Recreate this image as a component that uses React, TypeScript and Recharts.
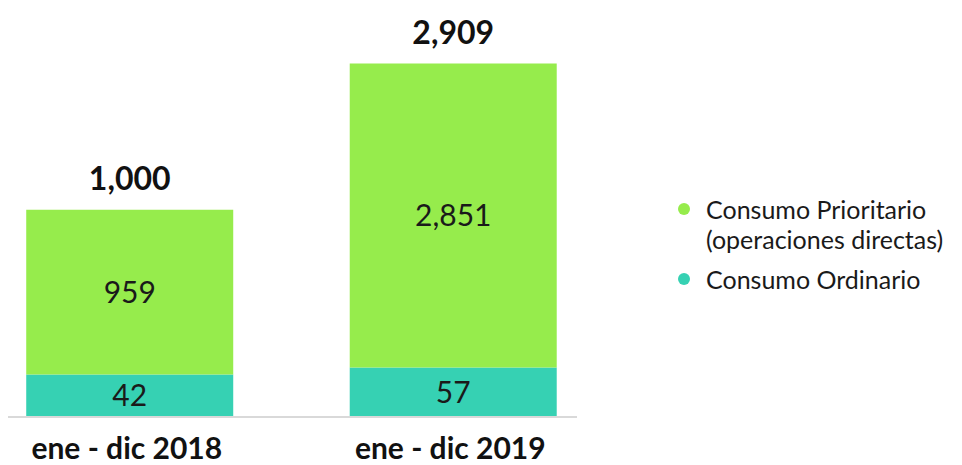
import { Bar, BarChart, LabelList, Legend, XAxis, YAxis } from "recharts";

const categories = ["ene - dic 2018", "ene - dic 2019"];
const ordinario = [42, 57];
const prioritario = [959, 2851];
const totals = [1000, 2909];

const seriesNames = {
  prioritario: ["Consumo Prioritario", "(operaciones directas)"],
  ordinario: ["Consumo Ordinario"],
};

const GREEN = "#96ec4c";
const TEAL = "#36d1b3";
const FONT = "Lato, 'Noto Sans', sans-serif";

const data = categories.map((name, i) => ({
  name,
  ordinario: ordinario[i],
  prioritario: prioritario[i],
  total: totals[i],
}));

const fmt = (v: unknown) => Number(v).toLocaleString("en-US");

function CategoryTick(props: any) {
  const { x, y, payload } = props;
  return (
    <text
      x={x - 3}
      y={y}
      dy={34}
      textAnchor="middle"
      fontFamily={FONT}
      fontWeight={700}
      fontSize={30}
      fill="#111"
    >
      {payload.value}
    </text>
  );
}

function LegendBox() {
  const items = [
    { color: GREEN, lines: seriesNames.prioritario },
    { color: TEAL, lines: seriesNames.ordinario },
  ];
  return (
    <div style={{ fontFamily: FONT, fontSize: 25, color: "#1a1a1a" }}>
      {items.map((it, i) => (
        <div
          key={i}
          style={{ display: "flex", alignItems: "flex-start", marginBottom: 10 }}
        >
          <svg width={12} height={12} style={{ marginTop: 9, marginRight: 16 }}>
            <circle cx={6} cy={6} r={6} fill={it.color} />
          </svg>
          <div style={{ lineHeight: "30px", whiteSpace: "nowrap" }}>
            {it.lines.map((l) => (
              <div key={l}>{l}</div>
            ))}
          </div>
        </div>
      ))}
    </div>
  );
}

export default function App() {
  return (
    <BarChart
      width={946}
      height={457}
      data={data}
      margin={{ top: 50, right: 377, left: 0, bottom: 0 }}
      barCategoryGap="18%"
    >
      <XAxis
        dataKey="name"
        height={48}
        padding={{ left: -40, right: -38 }}
        axisLine={{ stroke: "#d9d9d9", strokeWidth: 2 }}
        tickLine={false}
        tick={<CategoryTick />}
        interval={0}
      />
      <YAxis hide type="number" scale="sqrt" domain={[0, 3000]} />
      <Legend
        layout="horizontal"
        verticalAlign="middle"
        align="center"
        wrapperStyle={{ left: 670, top: 186, width: "auto" }}
        content={<LegendBox />}
      />
      <Bar
        dataKey="ordinario"
        stackId="a"
        fill={TEAL}
        isAnimationActive={false}
      >
        <LabelList
          dataKey="ordinario"
          position="center"
          formatter={fmt}
          fill="#1a1a1a"
          fontSize={30}
          fontFamily={FONT}
        />
      </Bar>
      <Bar
        dataKey="prioritario"
        stackId="a"
        fill={GREEN}
        isAnimationActive={false}
      >
        <LabelList
          dataKey="prioritario"
          position="center"
          formatter={fmt}
          fill="#1a1a1a"
          fontSize={30}
          fontFamily={FONT}
        />
        <LabelList
          dataKey="total"
          position="top"
          offset={20}
          formatter={fmt}
          fill="#111"
          fontSize={32}
          fontWeight={700}
          fontFamily={FONT}
        />
      </Bar>
    </BarChart>
  );
}
